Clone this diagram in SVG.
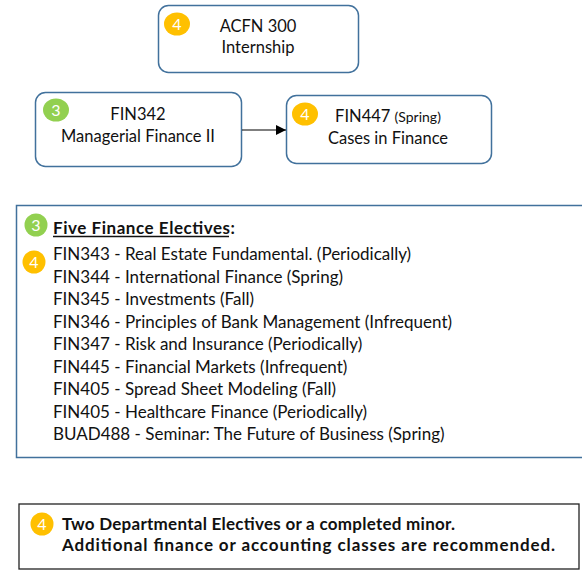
<svg xmlns="http://www.w3.org/2000/svg" width="582" height="573" viewBox="0 0 582 573">
<defs>
<style>
.box{fill:#fff;stroke:#41719C;stroke-width:1.5}
.t{font-family:Lato,"Liberation Sans",sans-serif;font-size:17px;fill:#111}
.n{font-size:16.5px}
.c{text-anchor:middle}
.b{font-weight:bold}
.bt{font-family:Lato,"Liberation Sans",sans-serif;font-size:16px;fill:#fff;text-anchor:middle}
.o{fill:#FFC000}
.g{fill:#92D050}
</style>
<marker id="ah" viewBox="0 0 10 10" refX="10" refY="5" markerWidth="10" markerHeight="10" markerUnits="userSpaceOnUse" orient="auto">
<path d="M0,0 L10,5 L0,10 z" fill="#000"/>
</marker>
</defs>
<rect width="582" height="573" fill="#fff"/>

<g id="acfn300">
<rect class="box" x="158.5" y="5.5" width="200" height="67" rx="10"/>
<ellipse class="o" cx="177" cy="24" rx="13" ry="11.5"/>
<text class="bt" x="177" y="29.5">4</text>
<text class="t n c" x="258" y="32">ACFN 300</text>
<text class="t n c" x="258" y="53">Internship</text>
</g>

<g id="fin342">
<rect class="box" x="35.5" y="92.5" width="206" height="74" rx="10"/>
<ellipse class="g" cx="56" cy="110" rx="13" ry="11.5"/>
<text class="bt" x="56" y="115.5">3</text>
<text class="t n c" x="138" y="120">FIN342</text>
<text class="t n c" x="138" y="141.5">Managerial Finance II</text>
</g>

<g id="fin447">
<rect class="box" x="286.5" y="95.5" width="205" height="68" rx="10"/>
<ellipse class="o" cx="305" cy="114" rx="13" ry="11.5"/>
<text class="bt" x="305" y="119.5">4</text>
<text class="t n c" x="388" y="122">FIN447 <tspan font-size="14">(Spring)</tspan></text>
<text class="t n c" x="388" y="144">Cases in Finance</text>
</g>

<g id="connectors">
<line x1="242" y1="130" x2="286" y2="130" stroke="#000" stroke-width="1.2" marker-end="url(#ah)"/>
</g>

<g id="electives">
<path d="M586,205.5 H16.5 V457.5 H586" fill="#fff" stroke="#41719C" stroke-width="1.5"/>
<circle class="g" cx="36" cy="225" r="11.5"/>
<text class="bt" x="36" y="230.5">3</text>
<text class="t b" x="53" y="234" font-size="17.5" textLength="182" lengthAdjust="spacing">Five Finance Electives:</text>
<line x1="53" y1="236.5" x2="229" y2="236.5" stroke="#111" stroke-width="1.3"/>
<circle class="o" cx="34" cy="262" r="11.5"/>
<text class="bt" x="34" y="267.5">4</text>
<text class="t" x="53" y="260">FIN343 - Real Estate Fundamental. (Periodically)</text>
<text class="t" x="53" y="282.5">FIN344 - International Finance (Spring)</text>
<text class="t" x="53" y="305">FIN345 - Investments (Fall)</text>
<text class="t" x="53" y="327.5">FIN346 - Principles of Bank Management (Infrequent)</text>
<text class="t" x="53" y="350">FIN347 - Risk and Insurance (Periodically)</text>
<text class="t" x="53" y="372.5">FIN445 - Financial Markets (Infrequent)</text>
<text class="t" x="53" y="395">FIN405 - Spread Sheet Modeling (Fall)</text>
<text class="t" x="53" y="417.5">FIN405 - Healthcare Finance (Periodically)</text>
<text class="t" x="53" y="440">BUAD488 - Seminar: The Future of Business (Spring)</text>
</g>

<g id="dept-electives">
<rect x="19" y="504" width="560" height="65" fill="#fff" stroke="#222" stroke-width="1.3"/>
<circle class="o" cx="42" cy="524" r="11.5"/>
<text class="bt" x="42" y="529.5">4</text>
<text class="t b" x="62" y="530" font-size="17" textLength="393" lengthAdjust="spacing">Two Departmental Electives or a completed minor.</text>
<text class="t b" x="62" y="551" font-size="17" textLength="493" lengthAdjust="spacing">Additional finance or accounting classes are recommended.</text>
</g>
</svg>
